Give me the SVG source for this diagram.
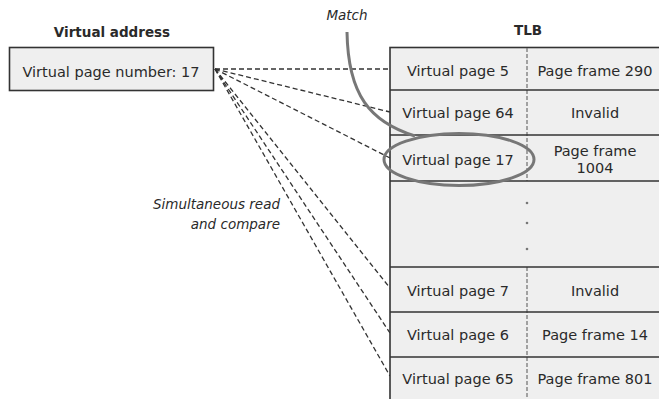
<svg xmlns="http://www.w3.org/2000/svg" width="659" height="399" viewBox="0 0 659 399">
<style>
.t{font-family:"DejaVu Sans",sans-serif;font-size:14.5px;fill:#2a2a2a;text-anchor:middle}
.h{font-family:"DejaVu Sans",sans-serif;font-size:13.5px;font-weight:bold;fill:#2a2a2a;text-anchor:middle}
.i{font-family:"DejaVu Sans",sans-serif;font-size:13.5px;font-style:italic;fill:#2a2a2a}
.box{fill:#efefef;stroke:#333;stroke-width:1.6}
.row{stroke:#333;stroke-width:1.6;fill:none}
.div{stroke:#777;stroke-width:1.3;stroke-dasharray:4 2;fill:none}
.dl{stroke:#333;stroke-width:1.3;stroke-dasharray:5 3;fill:none}
.hl{stroke:#777;stroke-width:3;fill:none}
</style>
<rect width="659" height="399" fill="#fff"/>
<g id="virtual-address">
<text class="h" x="112" y="37">Virtual address</text>
<rect class="box" x="9.5" y="47.5" width="204" height="43"/>
<text class="t" x="111" y="77">Virtual page number: 17</text>
</g>
<g id="connectors">
<line class="dl" x1="215" y1="69" x2="390" y2="69"/>
<line class="dl" x1="215" y1="69" x2="390" y2="112"/>
<line class="dl" x1="215" y1="69" x2="390" y2="158"/>
<line class="dl" x1="215" y1="69" x2="390" y2="288"/>
<line class="dl" x1="215" y1="69" x2="390" y2="333"/>
<line class="dl" x1="215" y1="69" x2="390" y2="376"/>
</g>
<g id="tlb">
<text class="h" x="528" y="35">TLB</text>
<rect class="box" x="390" y="47.5" width="280" height="360"/>
<line class="div" x1="527" y1="48" x2="527" y2="181"/>
<line class="div" x1="527" y1="267" x2="527" y2="399"/>
<line class="row" x1="390" y1="90" x2="659" y2="90"/>
<line class="row" x1="390" y1="135" x2="659" y2="135"/>
<line class="row" x1="390" y1="181" x2="659" y2="181"/>
<line class="row" x1="390" y1="267" x2="659" y2="267"/>
<line class="row" x1="390" y1="312" x2="659" y2="312"/>
<line class="row" x1="390" y1="357" x2="659" y2="357"/>
<circle cx="527" cy="203" r="1.3" fill="#777"/>
<circle cx="527" cy="223" r="1.3" fill="#777"/>
<circle cx="527" cy="249" r="1.3" fill="#777"/>
<text class="t" x="458" y="76">Virtual page 5</text>
<text class="t" x="595" y="76">Page frame 290</text>
<text class="t" x="458" y="118">Virtual page 64</text>
<text class="t" x="595" y="118">Invalid</text>
<text class="t" x="458" y="165">Virtual page 17</text>
<text class="t" x="595" y="156">Page frame</text>
<text class="t" x="595" y="173">1004</text>
<text class="t" x="458" y="296">Virtual page 7</text>
<text class="t" x="595" y="296">Invalid</text>
<text class="t" x="458" y="340">Virtual page 6</text>
<text class="t" x="595" y="340">Page frame 14</text>
<text class="t" x="458" y="384">Virtual page 65</text>
<text class="t" x="595" y="384">Page frame 801</text>
</g>
<g id="match">
<text class="i" x="347" y="20" text-anchor="middle">Match</text>
<path class="hl" d="M347,32 C348,95 370,122 415,136"/>
<ellipse class="hl" cx="459" cy="159.5" rx="75" ry="26"/>
</g>
<g id="label-compare">
<text class="i" x="280" y="209" text-anchor="end">Simultaneous read</text>
<text class="i" x="280" y="229" text-anchor="end">and compare</text>
</g>
</svg>
